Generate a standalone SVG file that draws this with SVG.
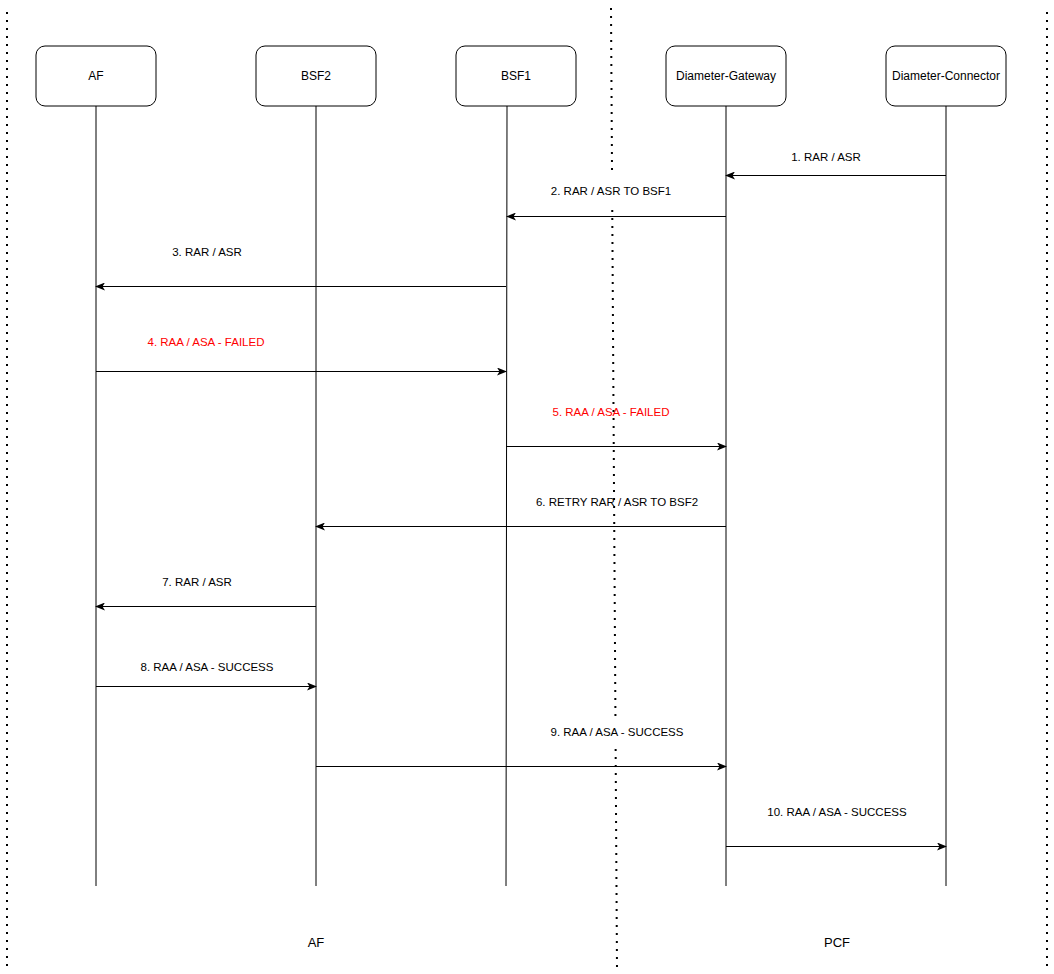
<svg xmlns="http://www.w3.org/2000/svg" width="1054" height="974" viewBox="0 0 1054 974">
<style>
.node rect{fill:#fff;stroke:#000;stroke-width:1}
.node text{font-family:"Liberation Sans",Arial,sans-serif;font-size:12px;text-anchor:middle;fill:#000}
.life{stroke:#000;stroke-width:1;fill:none}
.msg{stroke:#000;stroke-width:1;fill:none;marker-end:url(#arr)}
.lbl{font-family:"Liberation Sans",Arial,sans-serif;font-size:11.5px;text-anchor:middle;fill:#000}
.red{fill:#FF0000}
.dot{stroke:#000;stroke-width:2;stroke-dasharray:2 6;fill:none}
.zone{font-family:"Liberation Sans",Arial,sans-serif;font-size:13px;text-anchor:middle;fill:#000}
</style>
<defs>
<marker id="arr" viewBox="0 0 10 8" refX="9" refY="4" markerWidth="10" markerHeight="8" markerUnits="userSpaceOnUse" orient="auto">
<path d="M0,0 L10,4 L0,8 L2.5,4 Z" fill="#000"/>
</marker>
</defs>
<rect width="1054" height="974" fill="#fff"/>
<g id="separators">
<line class="dot" x1="7" y1="12" x2="7" y2="968"/>
<line class="dot" x1="1047" y1="12" x2="1047" y2="968"/>
<line class="dot" x1="611" y1="8" x2="612.05" y2="176"/>
<line class="dot" x1="612.26" y1="210" x2="615.43" y2="716"/>
<line class="dot" x1="615.63" y1="749" x2="617" y2="968"/>
</g>
<g id="lifelines">
<line class="life" x1="96" y1="106" x2="96" y2="886"/>
<line class="life" x1="316" y1="106" x2="316" y2="886"/>
<line class="life" x1="507" y1="106" x2="506" y2="886"/>
<line class="life" x1="726" y1="106" x2="726" y2="886"/>
<line class="life" x1="946" y1="106" x2="946" y2="886"/>
</g>
<g id="node-af" class="node"><rect x="36" y="46" width="120" height="60" rx="9"/><text x="96" y="80">AF</text></g>
<g id="node-bsf2" class="node"><rect x="256" y="46" width="120" height="60" rx="9"/><text x="316" y="80">BSF2</text></g>
<g id="node-bsf1" class="node"><rect x="456" y="46" width="120" height="60" rx="9"/><text x="516" y="80">BSF1</text></g>
<g id="node-dg" class="node"><rect x="666" y="46" width="120" height="60" rx="9"/><text x="726" y="80">Diameter-Gateway</text></g>
<g id="node-dc" class="node"><rect x="886" y="46" width="120" height="60" rx="9"/><text x="946" y="80">Diameter-Connector</text></g>
<g id="connectors">
<line class="msg" x1="946" y1="175.5" x2="726" y2="175.5"/>
<line class="msg" x1="726" y1="216.5" x2="507" y2="216.5"/>
<line class="msg" x1="506" y1="286.5" x2="96" y2="286.5"/>
<line class="msg" x1="96" y1="371.5" x2="506" y2="371.5"/>
<line class="msg" x1="506" y1="446.5" x2="726" y2="446.5"/>
<line class="msg" x1="726" y1="526.5" x2="316" y2="526.5"/>
<line class="msg" x1="316" y1="606.5" x2="96" y2="606.5"/>
<line class="msg" x1="96" y1="686.5" x2="316" y2="686.5"/>
<line class="msg" x1="316" y1="766.5" x2="726" y2="766.5"/>
<line class="msg" x1="726" y1="846.5" x2="946" y2="846.5"/>
</g>
<g id="labels">
<text class="lbl" x="826" y="161">1. RAR / ASR</text>
<text class="lbl" x="611" y="195">2. RAR / ASR TO BSF1</text>
<text class="lbl" x="207" y="256">3. RAR / ASR</text>
<text class="lbl red" x="206" y="346">4. RAA / ASA - FAILED</text>
<text class="lbl red" x="611" y="416">5. RAA / ASA - FAILED</text>
<text class="lbl" x="617" y="506">6. RETRY RAR / ASR TO BSF2</text>
<text class="lbl" x="197" y="586">7. RAR / ASR</text>
<text class="lbl" x="207" y="671">8. RAA / ASA - SUCCESS</text>
<text class="lbl" x="617" y="736">9. RAA / ASA - SUCCESS</text>
<text class="lbl" x="837" y="816">10. RAA / ASA - SUCCESS</text>
</g>
<g id="zones">
<text class="zone" x="316" y="947">AF</text>
<text class="zone" x="837" y="947">PCF</text>
</g>
</svg>
